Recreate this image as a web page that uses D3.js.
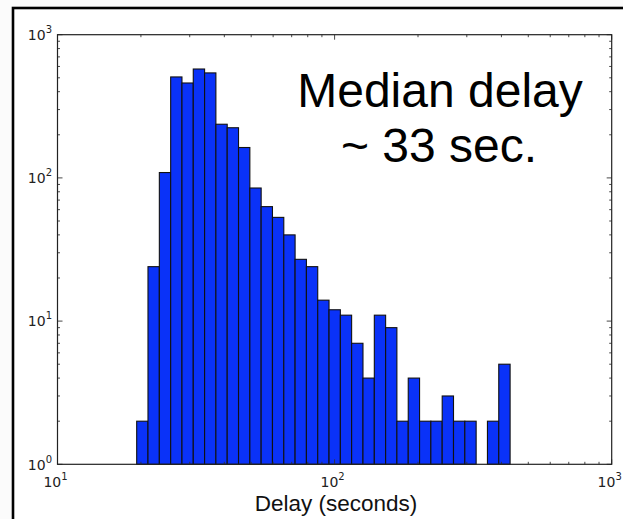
<!DOCTYPE html>
<html>
<head>
<meta charset="utf-8">
<script src="https://cdn.jsdelivr.net/npm/d3@7/dist/d3.min.js"></script>
<style>
  html, body { margin: 0; padding: 0; background: #fbfbfb; }
  svg { display: block; }
</style>
</head>
<body>
<svg id="chart" width="623" height="519"></svg>
<script>
// Histogram bin edges (seconds), log-spaced
const binEdges = [19.31, 21.21, 23.31, 25.61, 28.13, 30.90, 33.95, 37.29, 40.97, 45.01,
  49.45, 54.32, 59.67, 65.56, 72.02, 79.12, 86.92, 95.48, 104.9, 115.2,
  126.6, 139.1, 152.8, 167.8, 184.4, 202.6, 222.5, 244.5, 268.6, 295.1,
  324.2, 356.1, 391.2, 429.9];
// Counts per bin
const counts = [2, 24, 109, 507, 460, 576, 541, 237, 224, 163,
  85, 63, 53, 40, 27, 24, 14, 12, 11, 7,
  4, 11, 9, 2, 4, 2, 2, 3, 2, 2,
  0, 2, 5];
const xTickValues = [10, 100, 1000];
const xTickExps = ["1", "2", "3"];
const yTickValues = [1, 10, 100, 1000];
const yTickExps = ["0", "1", "2", "3"];
const annotationLines = ["Median delay", "~ 33 sec."];
const xLabel = "Delay (seconds)";

const svg = d3.select("#chart");
const L = 57.5, R = 611.7, T = 34.7, B = 464.3;

// slide frame
svg.append("rect").attr("x", 13).attr("y", 8).attr("width", 640).attr("height", 540)
  .attr("fill", "#ffffff").attr("stroke", "#000").attr("stroke-width", 2.6);

const x = d3.scaleLog().domain([10, 1000]).range([L, R]);
const y = d3.scaleLog().domain([1, 1000]).range([B, T]);

const bins = counts.map((c, i) => ({ x0: binEdges[i], x1: binEdges[i + 1], c }));

svg.append("g").selectAll("rect").data(bins.filter(d => d.c > 0)).join("rect")
  .attr("x", d => x(d.x0))
  .attr("width", d => x(d.x1) - x(d.x0))
  .attr("y", d => y(d.c))
  .attr("height", d => y(1) - y(d.c))
  .attr("fill", "#0a32f8")
  .attr("stroke", "#111")
  .attr("stroke-width", 1.1);

// ticks (inward on all sides)
const minorX = [], minorY = [];
[10, 100].forEach(b => { for (let k = 2; k <= 9; k++) minorX.push(b * k); });
[1, 10, 100].forEach(b => { for (let k = 2; k <= 9; k++) minorY.push(b * k); });

const tg = svg.append("g").attr("stroke", "#333").attr("stroke-width", 0.9);
function vt(v, len) {
  tg.append("line").attr("x1", x(v)).attr("x2", x(v)).attr("y1", B).attr("y2", B - len);
  tg.append("line").attr("x1", x(v)).attr("x2", x(v)).attr("y1", T).attr("y2", T + len);
}
function ht(v, len) {
  tg.append("line").attr("y1", y(v)).attr("y2", y(v)).attr("x1", L).attr("x2", L + len);
  tg.append("line").attr("y1", y(v)).attr("y2", y(v)).attr("x1", R).attr("x2", R - len);
}
xTickValues.forEach(v => vt(v, 5));
minorX.forEach(v => vt(v, 2.5));
yTickValues.forEach(v => ht(v, 5));
minorY.forEach(v => ht(v, 2.5));

// axes frame
svg.append("rect").attr("x", L).attr("y", T).attr("width", R - L).attr("height", B - T)
  .attr("fill", "none").attr("stroke", "#222").attr("stroke-width", 1.2);

// tick labels
const fontTick = "DejaVu Sans, sans-serif";
xTickValues.forEach((v, i) => {
  const t = svg.append("text").attr("x", x(v) - 2).attr("y", 486.5)
    .attr("text-anchor", "middle").attr("font-family", fontTick).attr("font-size", 14).attr("fill", "#222");
  t.append("tspan").text("10");
  t.append("tspan").attr("dy", -7).attr("font-size", 10).text(xTickExps[i]);
});
yTickValues.forEach((v, i) => {
  const t = svg.append("text").attr("x", 52).attr("y", y(v) + 5.3)
    .attr("text-anchor", "end").attr("font-family", fontTick).attr("font-size", 14).attr("fill", "#222");
  t.append("tspan").text("10");
  t.append("tspan").attr("dy", -7).attr("font-size", 10).text(yTickExps[i]);
});

// annotation
const ann = svg.append("text").attr("font-family", "Liberation Sans, Arial, sans-serif")
  .attr("font-size", 48).attr("text-anchor", "middle").attr("fill", "#000");
ann.append("tspan").attr("x", 440).attr("y", 107).text(annotationLines[0]);
ann.append("tspan").attr("x", 439).attr("y", 162).text(annotationLines[1]);

svg.append("text").attr("x", 336).attr("y", 511).attr("text-anchor", "middle")
  .attr("font-family", "Liberation Sans, Arial, sans-serif").attr("font-size", 22.5)
  .attr("fill", "#111").text(xLabel);
</script>
</body>
</html>
